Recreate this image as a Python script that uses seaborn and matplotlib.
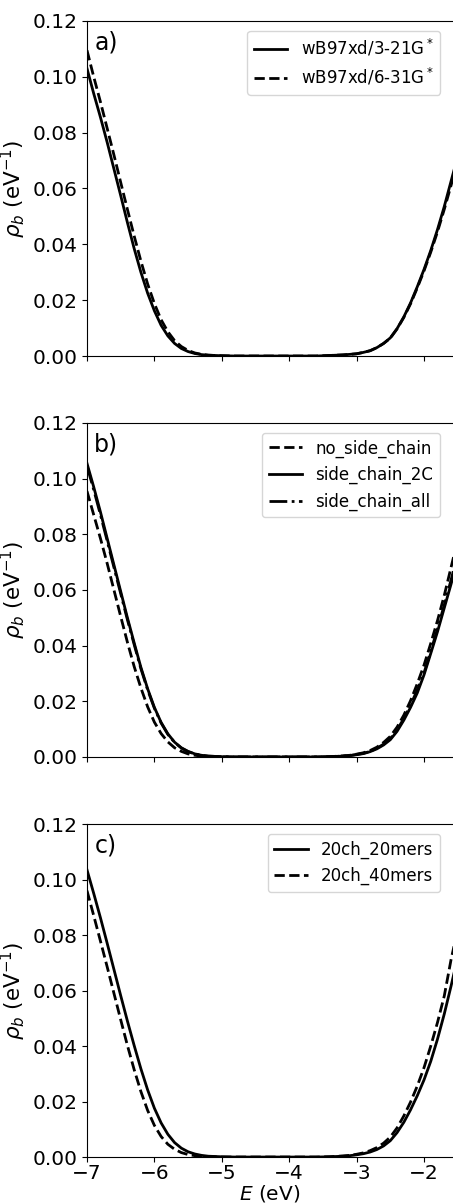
import numpy as np
import pandas as pd
import matplotlib
matplotlib.use("Agg")
import matplotlib.pyplot as plt
import seaborn as sns

# energy grid (eV)
E = [-7.0, -6.9, -6.8, -6.7, -6.6, -6.5, -6.4, -6.3, -6.2, -6.1, -6.0,
     -5.9, -5.8, -5.7, -5.6, -5.5, -5.4, -5.3, -5.2, -5.1, -5.0,
     -4.8, -4.6, -4.4, -4.2, -4.0, -3.8, -3.6, -3.4, -3.2, -3.1, -3.0,
     -2.9, -2.8, -2.7, -2.6, -2.5, -2.4, -2.3, -2.2, -2.1, -2.0,
     -1.9, -1.8, -1.7, -1.6, -1.5]

# panel a)
a_321 = [0.1030, 0.0940, 0.0855, 0.0765, 0.0670, 0.0575, 0.0478, 0.0385, 0.0300, 0.0225, 0.0162,
         0.0110, 0.0072, 0.0045, 0.0027, 0.0016, 0.0009, 0.0005, 0.0003, 0.0002, 0.0001,
         0.0, 0.0, 0.0, 0.0, 0.0, 0.0, 0.0, 0.0002, 0.0004, 0.0006, 0.0008,
         0.0013, 0.0019, 0.0030, 0.0045, 0.0065, 0.0098, 0.0140, 0.0190, 0.0248, 0.0310,
         0.0378, 0.0453, 0.0535, 0.0625, 0.0715]
a_631 = [0.1095, 0.1000, 0.0910, 0.0815, 0.0720, 0.0622, 0.0525, 0.0430, 0.0340, 0.0258, 0.0188,
         0.0130, 0.0087, 0.0055, 0.0034, 0.0020, 0.0011, 0.0006, 0.0003, 0.0002, 0.0001,
         0.0, 0.0, 0.0, 0.0, 0.0, 0.0, 0.0, 0.0002, 0.0004, 0.0006, 0.0008,
         0.0013, 0.0019, 0.0030, 0.0045, 0.0064, 0.0097, 0.0138, 0.0187, 0.0244, 0.0305,
         0.0372, 0.0445, 0.0525, 0.0610, 0.0700]

# panel b)
b_none = [0.0955, 0.0870, 0.0785, 0.0695, 0.0600, 0.0505, 0.0412, 0.0325, 0.0248, 0.0180, 0.0125,
          0.0084, 0.0054, 0.0033, 0.0020, 0.0011, 0.0006, 0.0003, 0.0002, 0.0001, 0.0,
          0.0, 0.0, 0.0, 0.0, 0.0, 0.0, 0.0, 0.0001, 0.0004, 0.0006, 0.0010,
          0.0015, 0.0023, 0.0035, 0.0052, 0.0074, 0.0107, 0.0150, 0.0202, 0.0263, 0.0330,
          0.0408, 0.0490, 0.0580, 0.0680, 0.0780]
b_2c = [0.1055, 0.0970, 0.0880, 0.0785, 0.0690, 0.0595, 0.0500, 0.0410, 0.0322, 0.0245, 0.0178,
        0.0124, 0.0083, 0.0053, 0.0033, 0.0020, 0.0011, 0.0006, 0.0003, 0.0002, 0.0001,
        0.0, 0.0, 0.0, 0.0, 0.0, 0.0, 0.0, 0.0001, 0.0003, 0.0005, 0.0008,
        0.0012, 0.0019, 0.0029, 0.0043, 0.0062, 0.0092, 0.0132, 0.0178, 0.0230, 0.0295,
        0.0372, 0.0450, 0.0535, 0.0620, 0.0710]
b_all = [0.1045, 0.0960, 0.0870, 0.0776, 0.0681, 0.0587, 0.0493, 0.0404, 0.0317, 0.0241, 0.0175,
         0.0122, 0.0081, 0.0052, 0.0032, 0.0019, 0.0011, 0.0006, 0.0003, 0.0002, 0.0001,
         0.0, 0.0, 0.0, 0.0, 0.0, 0.0, 0.0, 0.0001, 0.0003, 0.0005, 0.0009,
         0.0013, 0.0020, 0.0031, 0.0046, 0.0066, 0.0097, 0.0138, 0.0186, 0.0241, 0.0302,
         0.0380, 0.0460, 0.0546, 0.0635, 0.0728]

# panel c)
c_20 = [0.1035, 0.0950, 0.0862, 0.0770, 0.0676, 0.0582, 0.0490, 0.0402, 0.0318, 0.0242, 0.0176,
        0.0123, 0.0082, 0.0052, 0.0032, 0.0019, 0.0011, 0.0006, 0.0003, 0.0002, 0.0001,
        0.0, 0.0, 0.0, 0.0, 0.0, 0.0, 0.0, 0.0001, 0.0003, 0.0005, 0.0008,
        0.0012, 0.0018, 0.0027, 0.0040, 0.0059, 0.0088, 0.0125, 0.0170, 0.0221, 0.0278,
        0.0345, 0.0425, 0.0515, 0.0615, 0.0720]
c_40 = [0.0960, 0.0870, 0.0778, 0.0685, 0.0590, 0.0495, 0.0402, 0.0315, 0.0236, 0.0168, 0.0114,
        0.0074, 0.0046, 0.0028, 0.0016, 0.0009, 0.0005, 0.0003, 0.0001, 0.0001, 0.0,
        0.0, 0.0, 0.0, 0.0, 0.0, 0.0, 0.0, 0.0001, 0.0004, 0.0006, 0.0010,
        0.0015, 0.0023, 0.0034, 0.0050, 0.0072, 0.0105, 0.0148, 0.0198, 0.0256, 0.0322,
        0.0400, 0.0485, 0.0580, 0.0710, 0.0820]

panels = [
    ("a)", [(a_321, "-", r"wB97xd/3-21G$^*$"), (a_631, "--", r"wB97xd/6-31G$^*$")]),
    ("b)", [(b_none, "--", "no_side_chain"), (b_2c, "-", "side_chain_2C"), (b_all, "-.", "side_chain_all")]),
    ("c)", [(c_20, "-", "20ch_20mers"), (c_40, "--", "20ch_40mers")]),
]

plt.rcParams['font.family'] = ['DejaVu Sans']
fig = plt.figure(figsize=(4.53, 12.04), dpi=100)

# axes boxes in figure fraction (left, bottom, width, height)
boxes = [(0.192, 0.7043, 0.808, 0.2783),
         (0.192, 0.3713, 0.808, 0.2774),
         (0.192, 0.0390, 0.808, 0.2766)]

for i, (tag, series) in enumerate(panels):
    ax = fig.add_axes(boxes[i])
    for vals, ls, lab in series:
        sns.lineplot(x=E, y=vals, ax=ax, color="k", lw=2, linestyle=ls, label=lab)
    ax.set_xlim(-7, -1.57)
    ax.set_ylim(0, 0.12)
    ax.set_yticks(np.arange(0, 0.121, 0.02))
    ax.set_yticklabels(["%.2f" % t for t in np.arange(0, 0.121, 0.02)])
    ax.set_xticks([-7, -6, -5, -4, -3, -2])
    ax.tick_params(labelsize=14.5)
    ax.tick_params(axis="x", pad=1.5)
    ax.spines["right"].set_visible(False)
    ax.set_ylabel(r"$\rho_b$ (eV$^{-1}$)", fontsize=15.5, labelpad=3)
    ax.text(0.02, 0.935, tag, transform=ax.transAxes, fontsize=17, va="center", ha="left")
    ax.legend(loc="upper right", bbox_to_anchor=(0.9645, 0.971), borderaxespad=0, fontsize=12)
    if i < 2:
        ax.set_xticklabels([])
        ax.set_xlabel("")
    else:
        ax.set_xlabel(r"$E$ (eV)", fontsize=14.5, labelpad=0)

fig.savefig("out.png", dpi=100)
